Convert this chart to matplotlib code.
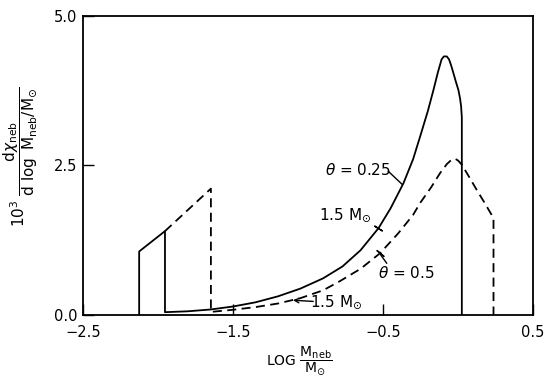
import matplotlib

matplotlib.use("Agg")
import matplotlib.pyplot as plt

plt.rcParams["font.family"] = "DejaVu Sans"
plt.rcParams["mathtext.fontset"] = "dejavusans"

# theta = 0.25 (solid)
solid_x = [-2.125, -2.125, -1.953, -1.953, -1.80, -1.65, -1.50, -1.35, -1.20, -1.05,
           -0.90, -0.77, -0.65, -0.53, -0.45, -0.364, -0.30, -0.253, -0.20, -0.164,
           -0.135, -0.11, -0.095, -0.075, -0.06, -0.045, -0.031, -0.015, 0.002, 0.013,
           0.02, 0.025, 0.025]
solid_y = [0.0, 1.06, 1.40, 0.045, 0.06, 0.09, 0.14, 0.21, 0.31, 0.44,
           0.61, 0.81, 1.08, 1.45, 1.78, 2.20, 2.60, 2.98, 3.42, 3.76,
           4.05, 4.27, 4.32, 4.32, 4.27, 4.16, 4.04, 3.90, 3.76, 3.62,
           3.49, 3.30, 0.0]

# theta = 0.5 (dashed)
dash_x = [-1.953, -1.647, -1.647, -1.50, -1.35, -1.20, -1.05, -0.90, -0.79, -0.65,
          -0.52, -0.40, -0.30, -0.253, -0.18, -0.12, -0.075, -0.045, -0.02, 0.0,
          0.025, 0.075, 0.124, 0.175, 0.224, 0.236, 0.236]
dash_y = [1.40, 2.11, 0.05, 0.085, 0.13, 0.19, 0.28, 0.41, 0.56, 0.77,
          1.03, 1.36, 1.67, 1.87, 2.13, 2.37, 2.52, 2.59, 2.61, 2.58,
          2.51, 2.30, 2.09, 1.88, 1.67, 1.62, 0.0]

x_ticks = [-2.5, -1.5, -0.5, 0.5]
y_ticks = [0.0, 2.5, 5.0]

fig = plt.figure(figsize=(5.6, 3.84), dpi=100)
ax = fig.add_axes([0.148, 0.180, 0.804, 0.779])

ax.plot(solid_x, solid_y, color="black", lw=1.3)
ax.plot(dash_x, dash_y, color="black", lw=1.3, linestyle=(0, (5, 3)))

# little marks on the curves at 1.5 Msun
ax.plot([-0.531], [1.45], marker=(2, 2, 58), ms=7, color="black", mew=1)
ax.plot([-0.52], [1.03], marker=(2, 2, 50), ms=7, color="black", mew=1)

ax.text(-0.667, 2.42, r"$\theta$ = 0.25", ha="center", va="center", fontsize=11)
ax.plot([-0.465, -0.372], [2.40, 2.18], color="black", lw=1)
ax.text(-0.753, 1.67, r"1.5 M$_{\odot}$", ha="center", va="center", fontsize=11)
ax.text(-0.342, 0.70, r"$\theta$ = 0.5", ha="center", va="center", fontsize=11)
ax.plot([-0.476, -0.515], [0.865, 1.0], color="black", lw=1)
ax.text(-0.815, 0.22, r"1.5 M$_{\odot}$", ha="center", va="center", fontsize=11)
ax.annotate("", xy=(-1.10, 0.245), xytext=(-0.965, 0.225),
            arrowprops=dict(arrowstyle="->", lw=1, color="black",
                            shrinkA=0, shrinkB=0, mutation_scale=8))

ax.set_xlim(-2.5, 0.5)
ax.set_ylim(0, 5.0)
ax.set_xticks(x_ticks)
ax.set_xticklabels([f"{v:.1f}".replace("-", "\u2212") for v in x_ticks])
ax.set_yticks(y_ticks)
ax.set_yticklabels([f"{v:.1f}" for v in y_ticks])
ax.tick_params(direction="in", length=8, width=1, labelsize=10.5)
ax.tick_params(axis="x", pad=7)
ax.tick_params(axis="y", pad=4)
for s in ax.spines.values():
    s.set_linewidth(1.3)

ax.set_xlabel(r"LOG $\dfrac{\mathrm{M}_{\mathrm{neb}}}{\mathrm{M}_{\odot}}$", fontsize=10)
ax.xaxis.set_label_coords(0.48, -0.10)
ax.set_ylabel(r"$10^3\ \dfrac{\mathrm{d}\chi_{\mathrm{neb}}}"
              r"{\mathrm{d}\ \log\ \mathrm{M}_{\mathrm{neb}}/\mathrm{M}_{\odot}}$",
              fontsize=11)
ax.yaxis.set_label_coords(-0.095, 0.53)

fig.savefig("out.png", dpi=100)
plt.close(fig)
